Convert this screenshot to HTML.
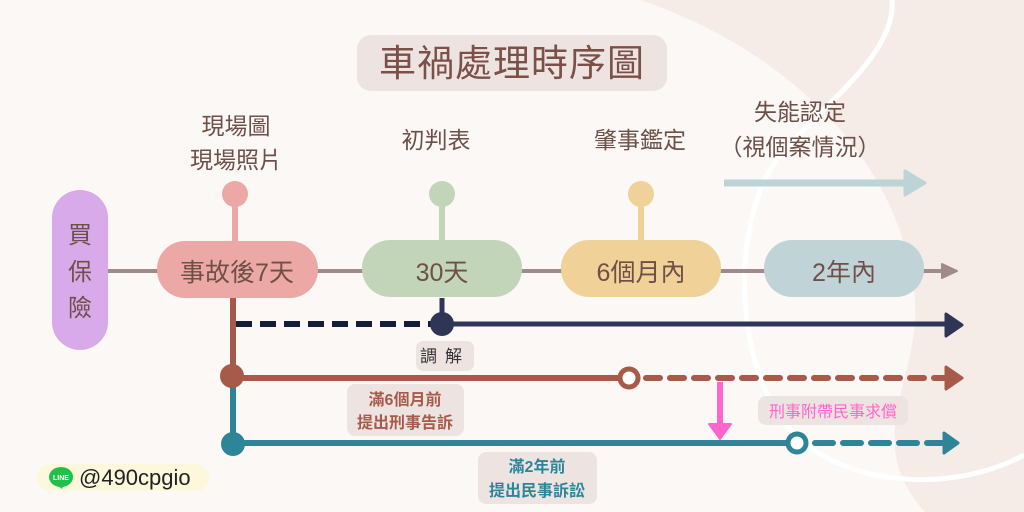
<!DOCTYPE html>
<html><head><meta charset="utf-8"><style>
html,body{margin:0;padding:0;width:1024px;height:512px;overflow:hidden;background:#fcf8f5}
svg{display:block}
text{font-family:"Liberation Sans","Noto Sans CJK TC",sans-serif}
</style></head><body>
<svg width="1024" height="512" viewBox="0 0 1024 512" xmlns="http://www.w3.org/2000/svg">
<rect width="1024" height="512" fill="#fcf8f5"/>
<path d="M640,0 C760,40 900,140 915,300 C920,380 860,440 925,512 L1024,512 L1024,0 Z" fill="#f5ece7"/>
<path d="M892,0 C898,60 800,120 770,170 C730,240 735,380 800,440 C860,490 960,490 1024,455" fill="none" stroke="#fff" stroke-width="5"/>

<rect x="357" y="35" width="310" height="56" rx="14" fill="#ede4e2"/>
<text x="512" y="76" font-size="37" fill="#7a5048" text-anchor="middle" letter-spacing="1">車禍處理時序圖</text>

<g fill="#6e5048" font-size="23" text-anchor="middle">
<text x="236" y="134">現場圖</text>
<text x="236" y="168">現場照片</text>
<text x="436" y="148">初判表</text>
<text x="640" y="148">肇事鑑定</text>
<text x="800" y="120">失能認定</text>
<text x="800" y="155">（視個案情況）</text>
</g>
<line x1="724" y1="183" x2="914" y2="183" stroke="#bcd4d6" stroke-width="7"/>
<path d="M905,171 L925,183 L905,195 Z" fill="#bcd4d6" stroke="#bcd4d6" stroke-width="3" stroke-linejoin="round"/>

<line x1="108" y1="271" x2="946" y2="271" stroke="#a08b8b" stroke-width="4"/>
<path d="M942,264 L957,271 L942,278 Z" fill="#a08b8b" stroke="#a08b8b" stroke-width="2" stroke-linejoin="round"/>

<rect x="52" y="190" width="56" height="160" rx="28" fill="#d8aaea"/>
<g fill="#6e5048" font-size="24" text-anchor="middle">
<text x="80" y="243">買</text><text x="80" y="280">保</text><text x="80" y="316">險</text>
</g>

<line x1="235" y1="195" x2="235" y2="242" stroke="#eba8a5" stroke-width="6"/>
<circle cx="235" cy="194" r="13" fill="#eba8a5"/>
<rect x="157" y="241" width="161" height="57" rx="28" fill="#eba8a5"/>
<text x="237" y="281" font-size="25" fill="#6e5048" text-anchor="middle">事故後7天</text>

<line x1="442" y1="195" x2="442" y2="242" stroke="#c3d5b9" stroke-width="6"/>
<circle cx="442" cy="194" r="13" fill="#c3d5b9"/>
<rect x="362" y="240" width="160" height="57" rx="28" fill="#c3d5b9"/>
<text x="442" y="281" font-size="25" fill="#6e5048" text-anchor="middle">30天</text>

<line x1="641" y1="195" x2="641" y2="242" stroke="#f0d198" stroke-width="6"/>
<circle cx="641" cy="194" r="13" fill="#f0d198"/>
<rect x="561" y="240" width="160" height="57" rx="28" fill="#f0d198"/>
<text x="641" y="281" font-size="25" fill="#6e5048" text-anchor="middle">6個月內</text>

<rect x="764" y="240" width="160" height="57" rx="28" fill="#c0d4d8"/>
<text x="844" y="281" font-size="25" fill="#6e5048" text-anchor="middle">2年內</text>

<line x1="442" y1="298" x2="442" y2="324" stroke="#2f3557" stroke-width="5"/>
<line x1="236" y1="324" x2="432" y2="324" stroke="#141e38" stroke-width="6" stroke-dasharray="16,8"/>
<line x1="442" y1="324" x2="950" y2="324" stroke="#2f3557" stroke-width="5"/>
<path d="M946,314 L962,325 L946,336 Z" fill="#2f3557" stroke="#2f3557" stroke-width="3" stroke-linejoin="round"/>
<circle cx="442" cy="324" r="12" fill="#2f3557"/>
<rect x="416" y="341" width="58" height="30" rx="7" fill="#ede4e2"/>
<text x="445" y="362" font-size="17" fill="#333" text-anchor="middle" letter-spacing="8">調解</text>

<line x1="233" y1="298" x2="233" y2="378" stroke="#a85a4a" stroke-width="6"/>
<line x1="233" y1="378" x2="233" y2="443" stroke="#2e8598" stroke-width="6"/>
<line x1="233" y1="378" x2="620" y2="378" stroke="#a85a4a" stroke-width="6"/>
<circle cx="232" cy="376" r="12" fill="#a85a4a"/>
<circle cx="629" cy="378" r="9" fill="#fff" stroke="#a85a4a" stroke-width="5"/>
<line x1="646" y1="378" x2="946" y2="378" stroke="#a85a4a" stroke-width="6" stroke-dasharray="14,10" stroke-linecap="round"/>
<path d="M946,367 L962,378 L946,389 Z" fill="#a85a4a" stroke="#a85a4a" stroke-width="3" stroke-linejoin="round"/>
<rect x="347" y="384" width="117" height="52" rx="8" fill="#ede4e2"/>
<g fill="#a85a4a" font-size="16" font-weight="bold" text-anchor="middle">
<text x="405" y="405">滿6個月前</text><text x="405" y="428">提出刑事告訴</text>
</g>

<line x1="233" y1="443" x2="788" y2="443" stroke="#2e8598" stroke-width="6"/>
<circle cx="233" cy="444" r="12" fill="#2e8598"/>
<circle cx="797" cy="443" r="9" fill="#fff" stroke="#2e8598" stroke-width="5"/>
<line x1="815" y1="443" x2="942" y2="443" stroke="#2e8598" stroke-width="6" stroke-dasharray="18,10" stroke-linecap="round"/>
<path d="M944,433 L958,443 L944,453 Z" fill="#2e8598" stroke="#2e8598" stroke-width="3" stroke-linejoin="round"/>
<rect x="478" y="452" width="119" height="52" rx="8" fill="#ede4e2"/>
<g fill="#2e8598" font-size="16" font-weight="bold" text-anchor="middle">
<text x="537" y="472">滿2年前</text><text x="537" y="496">提出民事訴訟</text>
</g>

<line x1="720" y1="382" x2="720" y2="426" stroke="#ff66cc" stroke-width="6"/>
<path d="M709,424 L731,424 L720,439 Z" fill="#ff66cc" stroke="#ff66cc" stroke-width="2" stroke-linejoin="round"/>
<rect x="758" y="396" width="150" height="29" rx="8" fill="#ede4e2"/>
<text x="833" y="417" font-size="16" fill="#ff66cc" text-anchor="middle">刑事附帶民事求償</text>

<rect x="37" y="464" width="172" height="27" rx="13" fill="#fdf7dc"/>
<ellipse cx="61" cy="477" rx="12" ry="10" fill="#1fc14a"/>
<path d="M57,485 L62,489 L63,485 Z" fill="#1fc14a"/>
<text x="61" y="480" font-size="7" font-weight="bold" fill="#fff" text-anchor="middle">LINE</text>
<text x="79" y="485" font-size="22" fill="#222">@490cpgio</text>
</svg>
</body></html>
